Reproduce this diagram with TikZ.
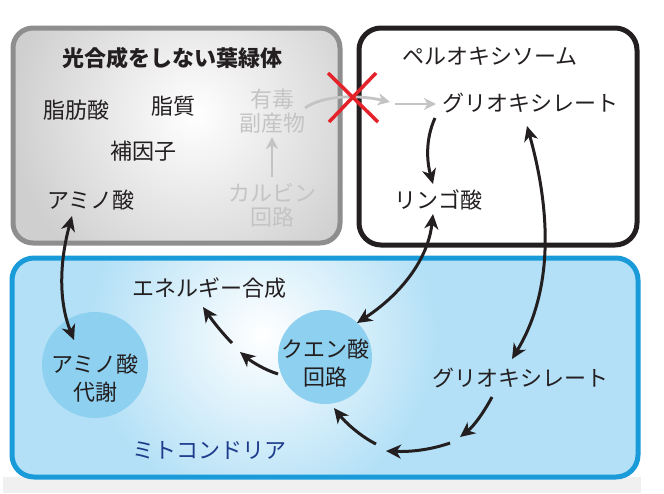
\documentclass[tikz,border=0pt]{standalone}
\usepackage{fontspec}
\setmainfont{Noto Sans CJK JP}
\usetikzlibrary{arrows.meta}
\definecolor{ink}{HTML}{231F20}
\definecolor{lgray}{HTML}{C4C4C4}
\definecolor{boxgray}{HTML}{8E8E8E}
\definecolor{grayfill}{HTML}{CFCFCF}
\definecolor{mitoedge}{HTML}{1A9BD9}
\definecolor{mitofill}{HTML}{B3E0F6}
\definecolor{circfill}{HTML}{8ED0EF}
\definecolor{mitotext}{HTML}{1E3C8C}
\definecolor{xred}{HTML}{E52229}
\definecolor{strip}{HTML}{F0F0F0}
\begin{document}
\begin{tikzpicture}[x=1pt,y=-1pt,
  lbl/.style={font=\fontsize{22}{24}\selectfont, text=ink, inner sep=0pt, align=center},
  glbl/.style={lbl, text=lgray},
  clbl/.style={lbl, font=\fontsize{22}{28}\selectfont},
  arr/.style={draw=ink, line width=3pt, -{Stealth[length=15pt,width=14pt,inset=4.5pt]}},
  darr/.style={draw=ink, line width=3pt, {Stealth[length=15pt,width=14pt,inset=4.5pt]}-{Stealth[length=15pt,width=14pt,inset=4.5pt]}},
  garr/.style={draw=lgray, line width=2.8pt, -{Stealth[length=12pt,width=12pt,inset=3.5pt]}},
  circ/.style={circle, fill=circfill, inner sep=0pt}
]
\useasboundingbox (0,0) rectangle (664,493);
\fill[white] (0,0) rectangle (664,493);
\fill[strip] (3,477) rectangle (641,493);
% chloroplast box
\begin{scope}
  \clip[rounded corners=20pt] (13,28) rectangle (340,243);
  \fill[grayfill] (13,28) rectangle (340,243);
  \shade[inner color=white, outer color=grayfill] (195,115) circle (185pt);
\end{scope}
\draw[boxgray, line width=5pt, rounded corners=20pt] (13,28) rectangle (340,243);
% peroxisome box
\draw[ink, fill=white, line width=5pt, rounded corners=22pt] (359,28) rectangle (637,245);
% mitochondria box
\begin{scope}
  \clip[rounded corners=22pt] (12,258) rectangle (638,477);
  \fill[mitofill] (12,258) rectangle (638,477);
  \shade[inner color=white, outer color=mitofill] (262,335) circle (175pt);
\end{scope}
\draw[mitoedge, line width=5pt, rounded corners=22pt] (12,258) rectangle (638,477);

% circles
\node[circ, minimum size=106pt] (aam) at (95,365) {};
\node[circ, minimum size=94pt] (tca) at (325,357) {};

% texts
\node[lbl, font=\bfseries\fontsize{22}{24}\selectfont] (tchl) at (172,58) {光合成をしない葉緑体};
\node[lbl] (fa) at (76,110) {脂肪酸};
\node[lbl] (lip) at (173,106) {脂質};
\node[lbl] (cof) at (143,151) {補因子};
\node[lbl] (aa) at (91,200) {アミノ酸};
\node[glbl] (tox) at (272,111) {有毒\\副産物};
\node[glbl] (calv) at (272,205) {カルビン\\回路};
\node[lbl] (tper) at (490,56) {ペルオキシソーム};
\node[lbl] (glp) at (530,103) {グリオキシレート};
\node[lbl] (mal) at (438,200) {リンゴ酸};
\node[lbl] (eng) at (209,288) {エネルギー合成};
\node[clbl] (aamt) at (95,378) {アミノ酸\\代謝};
\node[clbl] (tcat) at (325,363) {クエン酸\\回路};
\node[lbl] (glm) at (520,378) {グリオキシレート};
\node[lbl, text=mitotext] (tmito) at (209,450) {ミトコンドリア};

% gray arrows
\coordinate (g1) at (272,177); \coordinate (g2) at (272,137);
\draw[garr] (g1) -- (g2);
\coordinate (g3) at (305,108); \coordinate (g4) at (390,102);
\draw[garr] (g3) .. controls (322,96) and (355,94) .. (g4);
\coordinate (g5) at (395,104); \coordinate (g6) at (436,104);
\draw[garr] (g5) -- (g6);
% red cross
\coordinate (x1) at (328,73); \coordinate (x2) at (378,122);
\coordinate (x3) at (376,73); \coordinate (x4) at (329,122);
\draw[xred, line width=3.5pt] (x1) -- (x2) (x3) -- (x4);

% black arrows
\coordinate (a1) at (435,118); \coordinate (a2) at (433,184);
\draw[arr] (a1) .. controls (425,140) and (427,162) .. (a2);
\coordinate (b1) at (433,214); \coordinate (b2) at (357,323);
\draw[darr] (b1) .. controls (428,260) and (400,295) .. (b2);
\coordinate (c1) at (527,126); \coordinate (c2) at (512,359);
\draw[darr] (c1) .. controls (545,190) and (560,280) .. (c2);
\coordinate (d1) at (72,216); \coordinate (d2) at (74,340);
\draw[darr] (d1) .. controls (60,260) and (58,300) .. (d2);
% tca -> energy
\coordinate (e1) at (278,374); \coordinate (e2) at (240,352);
\coordinate (e3) at (232,343); \coordinate (e4) at (203,307);
\draw[arr] (e1) .. controls (265,370) and (252,362) .. (e2);
\draw[arr] (e3) .. controls (222,333) and (212,320) .. (e4);
% glyoxylate -> tca
\coordinate (f1) at (492,397); \coordinate (f2) at (460,437);
\coordinate (f3) at (450,443); \coordinate (f4) at (386,451);
\coordinate (f5) at (376,444); \coordinate (f6) at (334,408);
\draw[arr] (f1) .. controls (484,412) and (474,426) .. (f2);
\draw[arr] (f3) .. controls (430,450) and (410,452) .. (f4);
\draw[arr] (f5) .. controls (360,436) and (345,422) .. (f6);
\end{tikzpicture}
\end{document}
